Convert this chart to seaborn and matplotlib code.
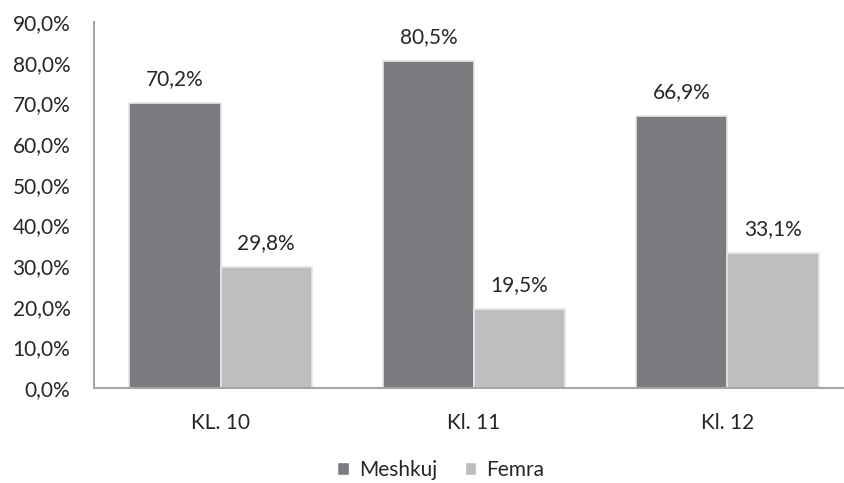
import pandas as pd
import seaborn as sns
import matplotlib.pyplot as plt
from matplotlib.ticker import FuncFormatter
from matplotlib.patches import Patch

# chart data
classes = ['KL. 10', 'Kl. 11', 'Kl. 12']
meshkuj = [70.2, 80.5, 66.9]
femra = [29.8, 19.5, 33.1]
series = ['Meshkuj', 'Femra']
colors = ['#7b7c80', '#bdbec0']

df = pd.DataFrame({
    'klasa': classes * 2,
    'gjinia': ['Meshkuj'] * 3 + ['Femra'] * 3,
    'vlera': meshkuj + femra,
})

sns.set_style('white')
plt.rcParams['font.family'] = ['Lato', 'DejaVu Sans']

fig = plt.figure(figsize=(8.44, 4.83), dpi=100)
ax = fig.add_axes([94 / 844, 95 / 483, 760 / 844, 366 / 483])

sns.barplot(data=df, x='klasa', y='vlera', hue='gjinia', hue_order=series,
            palette=colors, width=0.72, gap=0, edgecolor='#e6e6e6', linewidth=1.2,
            saturation=1, ax=ax, legend=False)

fmt = lambda v: f'{v:.1f}'.replace('.', ',') + '%'
for cont in ax.containers:
    ax.bar_label(cont, labels=[fmt(b.get_height()) for b in cont],
                 padding=10, fontsize=15, color='#262626')

ax.set_ylim(0, 90)
ax.set_xlim(-0.5, 2.5)
ax.set_yticks(range(0, 91, 10))
ax.yaxis.set_major_formatter(FuncFormatter(lambda v, p: fmt(v)))
ax.tick_params(axis='both', length=0, labelsize=15, labelcolor='#262626')
ax.tick_params(axis='y', pad=17)
ax.tick_params(axis='x', pad=18)
ax.set_xlabel('')
ax.set_ylabel('')

for s in ['top', 'right']:
    ax.spines[s].set_visible(False)
for s in ['left', 'bottom']:
    ax.spines[s].set_color('#a6a6a6')
    ax.spines[s].set_linewidth(1.5)

handles = [Patch(facecolor=c, label=l) for c, l in zip(colors, series)]
fig.legend(handles=handles, loc='center', bbox_to_anchor=(441 / 844, 1 - 470 / 483),
           ncol=2, frameon=False, fontsize=15, handlelength=0.55, handleheight=0.55,
           handletextpad=0.5, columnspacing=1.3, labelcolor='#262626')

fig.savefig('out.png', dpi=100)
